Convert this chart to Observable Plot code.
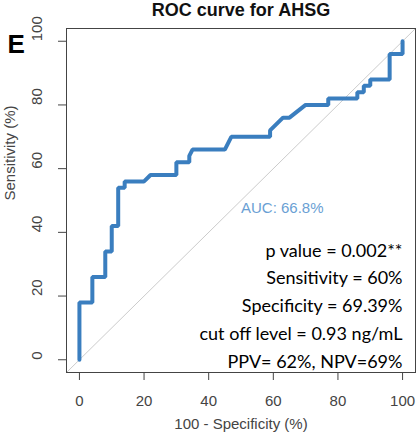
<!DOCTYPE html>
<html>
<head>
<meta charset="utf-8">
<script src="https://cdn.jsdelivr.net/npm/d3@7"></script>
<script src="https://cdn.jsdelivr.net/npm/@observablehq/plot@0.6"></script>
<style>
  html, body { margin: 0; padding: 0; background: white; }
</style>
</head>
<body>
<div id="chart"></div>
<script>
const chartTitle = "ROC curve for AHSG";
const panelLetter = "E";
const xLabel = "100 - Specificity (%)";
const yLabel = "Sensitivity (%)";
const axisLimits = [-4, 104];
const xTicks = [0, 20, 40, 60, 80, 100];
const yTicks = [0, 20, 40, 60, 80, 100];

// ROC curve: 100 - specificity (%) and sensitivity (%)
const fpr = [0, 0, 4, 4, 8, 8, 10, 10, 12, 12, 14, 14, 20, 22, 30, 30, 34, 34, 35, 45, 47, 59, 59, 63, 65, 70, 77, 77, 86, 86, 88, 88, 90, 90, 96, 96, 100, 100];
const tpr = [0, 18, 18, 26, 26, 34, 34, 42, 42, 54, 54, 56, 56, 58, 58, 62, 62, 64, 66, 66, 70, 70, 72, 76, 76, 80, 80, 82, 82, 84, 84, 86, 86, 88, 88, 96, 96, 100];

const aucText = "AUC: 66.8%";
const aucX = 50;
const aucY = 47.5;
const statsLines = [
  "p value = 0.002**",
  "Sensitivity = 60%",
  "Specificity = 69.39%",
  "cut off level = 0.93 ng/mL",
  "PPV= 62%, NPV=69%"
];

const axisColor = "#444";
const curveColor = "#3a7ebf";

const chart = Plot.plot({
  width: 419,
  height: 440,
  marginLeft: 66,
  marginRight: 4,
  marginTop: 28,
  marginBottom: 68,
  style: { fontFamily: "'Liberation Sans', Arial, sans-serif", background: "white" },
  x: { domain: axisLimits },
  y: { domain: axisLimits },
  marks: [
    Plot.line(axisLimits.map(v => [v, v]), { stroke: "#cccccc", strokeWidth: 1 }),
    Plot.line(d3.zip(fpr, tpr), { stroke: curveColor, strokeWidth: 4, strokeLinejoin: "miter" }),
    Plot.frame({ stroke: axisColor }),
    Plot.axisX({ ticks: xTicks, tickSize: 8, tickPadding: 15, fontSize: 15, label: null, color: axisColor }),
    Plot.axisY({ ticks: yTicks, tickSize: 8, tickFormat: () => "", label: null, color: axisColor }),
    Plot.text(yTicks, { y: d => d, text: d => String(d), frameAnchor: "left", dx: -29, rotate: -90, fontSize: 15, fill: axisColor }),
    Plot.text([yLabel], { frameAnchor: "left", dx: -56, rotate: -90, fontSize: 15, fill: axisColor }),
    Plot.text([xLabel], { frameAnchor: "bottom", dy: 56, fontSize: 15, fill: axisColor }),
    Plot.text([chartTitle], { frameAnchor: "top", lineAnchor: "bottom", dy: -13, fontSize: 18, fontWeight: "bold", fill: "#111" }),
    Plot.text([panelLetter], { frameAnchor: "top-left", textAnchor: "start", lineAnchor: "bottom", dx: -59, dy: 24, fontSize: 26, fontWeight: "bold", fill: "black" }),
    Plot.text([aucText], { x: aucX, y: aucY, textAnchor: "start", fontSize: 15, fill: "#6a9fd4" }),
    Plot.text([statsLines.join("\n")], { frameAnchor: "bottom-right", textAnchor: "end", lineAnchor: "bottom", dx: -13, dy: -5, fontSize: 18, lineHeight: 1.54, fontFamily: "Lato, 'Open Sans', sans-serif", fill: "black" })
  ]
});
document.getElementById("chart").appendChild(chart);
</script>
</body>
</html>
